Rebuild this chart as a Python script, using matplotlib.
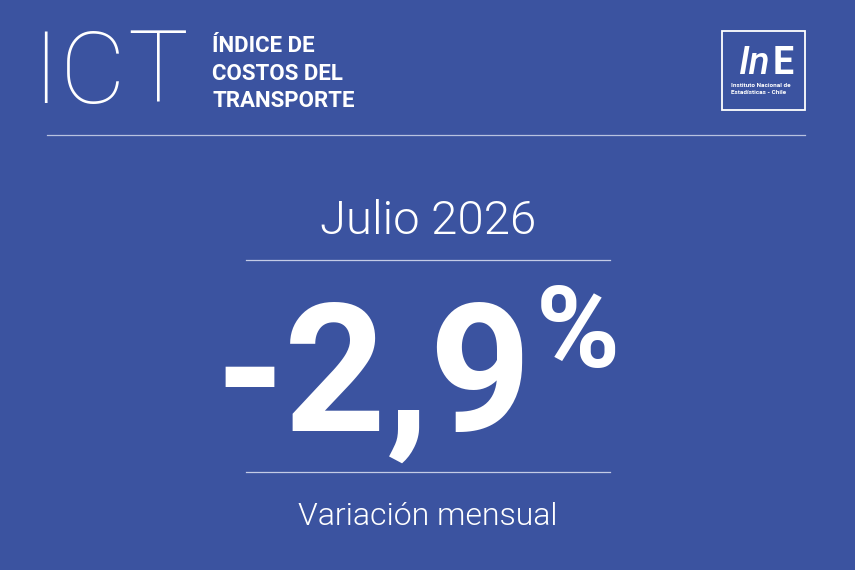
import matplotlib.pyplot as plt
from matplotlib.patches import Rectangle

# contenido del boletin
sigla = ["I", "C", "T"]
sigla_x = [45, 93, 158]
titulo = ["ÍNDICE DE", "COSTOS DEL", "TRANSPORTE"]
periodo = "Julio 2026"
variacion = -2.9
etiqueta = "Variación mensual"
institucion = ["Instituto Nacional de", "Estadísticas - Chile"]

FONDO = "#3b53a0"
BLANCO = "white"
LINEA = "#c3cbe6"


def main():
    fig = plt.figure(figsize=(8.55, 5.7), dpi=100)
    fig.patch.set_facecolor(FONDO)
    ax = fig.add_axes([0, 0, 1, 1])
    ax.set_xlim(0, 855)
    ax.set_ylim(570, 0)
    ax.axis('off')
    ax.set_facecolor(FONDO)

    # cabecera: sigla en letra fina, letra por letra para apretarla
    for letra, x in zip(sigla, sigla_x):
        ax.text(x, 103, letra, fontsize=73, fontfamily="Roboto", fontweight=100,
                color=BLANCO, va='baseline', ha='center')
    for i, linea in enumerate(titulo):
        ax.text(212, 52 + i * 27.5, linea, fontsize=16, fontfamily="Roboto",
                fontweight='bold', color=BLANCO, va='baseline', ha='left')

    # logo
    ax.add_patch(Rectangle((722, 31), 83, 79, fill=False, edgecolor=BLANCO, lw=1.3))
    ax.text(771, 74, "In", fontsize=28, fontfamily="Roboto", fontweight='medium',
            fontstyle='italic', color=BLANCO, va='baseline', ha='right')
    ax.text(773, 74, "E", fontsize=27, fontfamily="Roboto", fontweight='bold',
            color=BLANCO, va='baseline', ha='left')
    for i, linea in enumerate(institucion):
        ax.text(731, 87 + i * 7.5, linea, fontsize=4.6, fontfamily="Roboto",
                fontweight='bold', color=BLANCO, va='baseline', ha='left')

    ax.plot([47, 805], [135, 135], color="#b8c2e0", lw=0.9)

    # periodo
    ax.text(428, 234, periodo, fontsize=34, fontfamily="Roboto", fontweight=300,
            color=BLANCO, va='baseline', ha='center')
    ax.plot([246, 610], [260, 260], color=LINEA, lw=0.9)

    # valor principal
    valor = f"{variacion:.1f}".replace(".", ",")
    ax.text(532, 431, valor, fontsize=128, fontfamily="Roboto", fontweight='bold',
            color=BLANCO, va='baseline', ha='right')
    ax.text(578, 367, "%", fontsize=82, fontfamily="Roboto", fontweight='bold',
            color=BLANCO, va='baseline', ha='center')
    ax.plot([246, 610], [472, 472], color=LINEA, lw=0.9)

    ax.text(428, 525, etiqueta, fontsize=23, fontfamily="Roboto", fontweight=300,
            color=BLANCO, va='baseline', ha='center')

    fig.savefig("out.png", dpi=100, facecolor=FONDO)


if __name__ == "__main__":
    main()
